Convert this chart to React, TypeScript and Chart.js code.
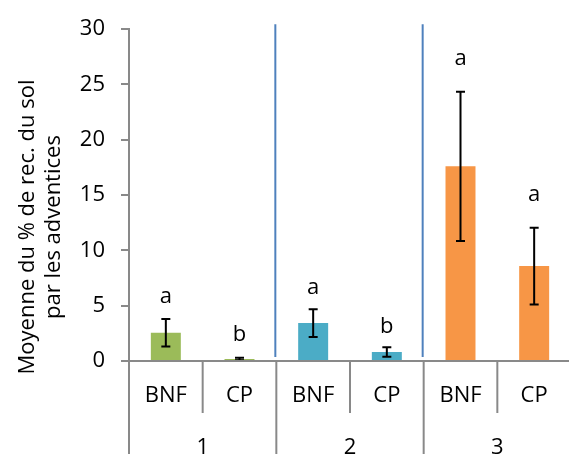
import React, { useEffect, useRef } from "react";
import { Chart, registerables } from "chart.js";

Chart.register(...registerables);

const categories = ["BNF", "CP", "BNF", "CP", "BNF", "CP"];
const groups = ["1", "2", "3"];
const values = [2.56, 0.18, 3.43, 0.81, 17.6, 8.58];
const errors = [1.24, 0.12, 1.25, 0.43, 6.75, 3.47];
const letters = ["a", "b", "a", "b", "a", "a"];
const letterPos = [5.8, 2.4, 6.65, 3.1, 27.3, 15.0];
const groupColors = ["#9BBB59", "#4BACC6", "#F79646"];
const yTicks = [0, 5, 10, 15, 20, 25, 30];
const yTitle = ["Moyenne du % de rec. du sol", "par les adventices"];

const FONT = "'Open Sans', sans-serif";
const AXIS = "#898989";

const overlay = {
  id: "overlay",
  afterDatasetsDraw(chart: any) {
    const ctx = chart.ctx;
    const x = chart.scales.x;
    const y = chart.scales.y;
    const area = chart.chartArea;
    const H = chart.height;
    ctx.save();
    // error bars
    ctx.strokeStyle = "#000";
    ctx.lineWidth = 2;
    values.forEach((v, i) => {
      const cx = x.getPixelForValue(i);
      const top = y.getPixelForValue(v + errors[i]);
      const bot = y.getPixelForValue(Math.max(0, v - errors[i]));
      ctx.beginPath();
      ctx.moveTo(cx, top);
      ctx.lineTo(cx, bot);
      ctx.moveTo(cx - 4.5, top);
      ctx.lineTo(cx + 4.5, top);
      ctx.moveTo(cx - 4.5, bot);
      ctx.lineTo(cx + 4.5, bot);
      ctx.stroke();
    });
    // letters
    ctx.fillStyle = "#000";
    ctx.font = `22px ${FONT}`;
    ctx.textAlign = "center";
    ctx.textBaseline = "middle";
    letters.forEach((l, i) => {
      ctx.fillText(l, x.getPixelForValue(i), y.getPixelForValue(letterPos[i]));
    });
    // blue separators
    const catW = (area.right - area.left) / categories.length;
    ctx.strokeStyle = "#4F81BD";
    ctx.lineWidth = 2;
    for (let g = 1; g < groups.length; g++) {
      const bx = area.left + g * 2 * catW - 1;
      ctx.beginPath();
      ctx.moveTo(bx, area.top - 5);
      ctx.lineTo(bx, area.bottom - 4);
      ctx.stroke();
    }
    // x axis line + ticks
    ctx.strokeStyle = AXIS;
    ctx.lineWidth = 2;
    ctx.beginPath();
    ctx.moveTo(area.left, area.bottom);
    ctx.lineTo(area.right, area.bottom);
    ctx.stroke();
    for (let i = 0; i <= categories.length; i++) {
      const tx = area.left + i * catW;
      const long = i % 2 === 0;
      ctx.beginPath();
      ctx.moveTo(tx, area.bottom);
      ctx.lineTo(tx, long ? H : area.bottom + 52);
      ctx.stroke();
    }
    // category labels
    ctx.fillStyle = "#000";
    categories.forEach((c, i) => {
      ctx.fillText(c, area.left + (i + 0.5) * catW, area.bottom + 35);
    });
    groups.forEach((g, i) => {
      ctx.fillText(g, area.left + (i * 2 + 1) * catW, area.bottom + 87);
    });
    // y title
    ctx.translate(0, 227);
    ctx.rotate(-Math.PI / 2);
    ctx.fillText(yTitle[0], 0, 28);
    ctx.fillText(yTitle[1], 0, 54);
    ctx.restore();
  },
};

export default function App() {
  const ref = useRef<HTMLCanvasElement>(null);
  useEffect(() => {
    const chart = new Chart(ref.current!, {
      type: "bar",
      data: {
        labels: categories,
        datasets: [
          {
            data: values,
            backgroundColor: values.map((_, i) => groupColors[Math.floor(i / 2)]),
            barPercentage: 0.407,
            categoryPercentage: 1,
          },
        ],
      },
      options: {
        responsive: false,
        animation: false,
        devicePixelRatio: 1,
        layout: { padding: { top: 29, bottom: 93, left: 0, right: 0 } },
        plugins: { legend: { display: false }, tooltip: { enabled: false } },
        scales: {
          x: { display: false },
          y: {
            min: 0,
            max: 30,
            afterBuildTicks: (s: any) => {
              s.ticks = yTicks.map((v) => ({ value: v }));
            },
            afterFit: (s: any) => {
              s.width = 129;
            },
            border: { display: true, color: AXIS, width: 2 },
            grid: {
              display: true,
              drawOnChartArea: false,
              drawTicks: true,
              tickLength: 8,
              color: AXIS,
              lineWidth: 2,
            },
            ticks: {
              padding: 16,
              color: "#000",
              font: { family: FONT, size: 22 },
            },
          },
        },
      },
      plugins: [overlay],
    });
    return () => chart.destroy();
  }, []);
  return (
    <div style={{ position: "fixed", left: 0, top: 0, width: 569, height: 454, overflow: "hidden", background: "#fff" }}>
      <canvas ref={ref} width={571} height={454} style={{ width: 571, height: 454 }} />
    </div>
  );
}
